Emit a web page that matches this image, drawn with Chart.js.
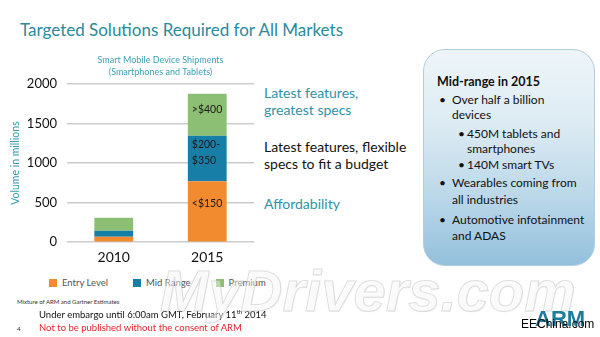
<!DOCTYPE html>
<html>
<head>
<meta charset="utf-8">
<title>Targeted Solutions Required for All Markets</title>
<script src="https://cdn.jsdelivr.net/npm/chart.js@4.4.1/dist/chart.umd.min.js"></script>
<style>
  html, body { margin: 0; padding: 0; background: #fff; }
  #slide { position: relative; width: 600px; height: 337px; overflow: hidden; font-family: Lato, "Open Sans", sans-serif; }
  .t { position: absolute; white-space: nowrap; }
  #title { left: 20px; top: 19px; font-size: 17px; line-height: 22px; color: #2b8a9c; }
  #chartBox { position: absolute; left: 0; top: 40px; width: 258px; height: 233px; }
  .side { font-size: 14px; line-height: 17px; left: 264px; }
  .teal { color: #2e93a9; }
  .dark { color: #111; }
  #legend { position: absolute; left: 49px; top: 277px; display: flex; font-size: 9.5px; line-height: 12px; color: #555; }
  #legend .item { display: flex; align-items: center; margin-right: 25px; }
  #legend .sw { width: 8px; height: 8px; margin-right: 5px; }
  #note { position: absolute; left: 423px; top: 49px; width: 170px; height: 215px; border-radius: 22px;
          border: 1px solid #b4cddc;
          background: linear-gradient(to bottom, #eef5f9 0%, #dcebf3 35%, #b9d6e8 70%, #93c0dc 100%); }
  .nb { font-size: 12px; line-height: 15px; color: #111; }
  .bul { font-size: 12px; line-height: 15px; color: #111; }
  .foot { font-family: Lato, sans-serif; }
  #wm { left: 160px; top: 262px; font: italic bold 58px "Liberation Sans", Arial, sans-serif; line-height: 58px;
        color: rgba(255,255,255,0.45); -webkit-text-stroke: 1px rgba(200,200,200,0.6);
        text-shadow: 1px 1px 1px rgba(0,0,0,0.04); }
  #arm { left: 535px; top: 308px; font: bold 22px "Liberation Sans", Arial, sans-serif; line-height: 22px; color: #1d7c9b; }
  #ee { left: 521px; top: 317px; font: 12px "Liberation Sans", Arial, sans-serif; line-height: 14px; color: #000; }
</style>
</head>
<body>
<div id="slide">
  <div id="title" class="t">Targeted Solutions Required for All Markets</div>

  <div id="chartBox"><canvas id="shipments" width="258" height="233"></canvas></div>
  <div id="legend"></div>

  <div class="t side teal" style="top:84px">Latest features,<br>greatest specs</div>
  <div class="t side dark" style="top:138px">Latest features, flexible<br>specs to fit a budget</div>
  <div class="t side teal" style="top:195px">Affordability</div>

  <div id="note"></div>
  <div class="t nb" style="left:437px; top:74px; font-weight:bold; font-size:12.5px">Mid-range in 2015</div>
  <div class="t bul" style="left:439px; top:92px">&bull;</div>
  <div class="t bul" style="left:452px; top:92px">Over half a billion</div>
  <div class="t bul" style="left:452px; top:107px">devices</div>
  <div class="t bul" style="left:458px; top:126px">&bull;</div>
  <div class="t bul" style="left:467px; top:126px">450M tablets and</div>
  <div class="t bul" style="left:467px; top:141px">smartphones</div>
  <div class="t bul" style="left:458px; top:157px">&bull;</div>
  <div class="t bul" style="left:467px; top:157px">140M smart TVs</div>
  <div class="t bul" style="left:439px; top:175px">&bull;</div>
  <div class="t bul" style="left:452px; top:175px">Wearables coming from</div>
  <div class="t bul" style="left:452px; top:192px">all industries</div>
  <div class="t bul" style="left:439px; top:212px">&bull;</div>
  <div class="t bul" style="left:452px; top:212px">Automotive infotainment</div>
  <div class="t bul" style="left:452px; top:228px">and ADAS</div>

  <div class="t foot" style="left:17px; top:298px; font-size:6px; line-height:8px; color:#333">Mixture of ARM and Gartner Estimates</div>
  <div class="t foot" style="left:39px; top:309px; font-size:9.5px; line-height:12px; color:#111">Under embargo until 6:00am GMT, February 11<sup style="font-size:6px; line-height:0">th</sup> 2014</div>
  <div class="t foot" style="left:17px; top:324px; font-size:6.5px; line-height:9px; color:#333">4</div>
  <div class="t foot" style="left:39px; top:322px; font-size:9.5px; line-height:12px; color:#e3262b">Not to be published without the consent of ARM</div>

  <div id="wm" class="t">MyDrivers.com</div>
  <div id="arm" class="t">ARM</div>
  <div id="ee" class="t">EEChina.com</div>
</div>

<script>
// shipments in millions, smartphones and tablets
const years = ['2010', '2015'];
const entryLevel = [70, 770];
const midRange = [75, 575];
const premium = [165, 530];

const seriesNames = ['Entry Level', 'Mid Range', 'Premium'];
const seriesColors = ['#f28a30', '#177fa7', '#8cbf74'];

// price bands printed inside the 2015 column, bottom to top
const priceBands = [['<$150'], ['$200-', '$350'], ['>$400']];
const bandYear = '2015';

const yMax = 2000;
const yStep = 500;

Chart.defaults.font.family = 'Lato, "Open Sans", sans-serif';

const priceBandPlugin = {
  id: 'priceBands',
  afterDatasetsDraw(chart) {
    const { ctx } = chart;
    const idx = chart.data.labels.indexOf(bandYear);
    ctx.save();
    ctx.font = '10.5px Lato, sans-serif';
    ctx.fillStyle = '#1a1a1a';
    ctx.textBaseline = 'middle';
    ctx.textAlign = 'left';
    chart.data.datasets.forEach((ds, i) => {
      const bar = chart.getDatasetMeta(i).data[idx];
      const lines = priceBands[i];
      const lh = 15.5;
      const mid = bar.y + (bar.base - bar.y) * 0.37;
      const left = bar.x - bar.width / 2 + 4;
      lines.forEach((txt, j) => {
        ctx.fillText(txt, left, mid + (j - (lines.length - 1) / 2) * lh);
      });
    });
    ctx.restore();
  }
};

const datasets = [entryLevel, midRange, premium].map((values, i) => ({
  label: seriesNames[i],
  data: values,
  backgroundColor: seriesColors[i],
  borderWidth: 0,
  barPercentage: 0.415,
  categoryPercentage: 1
}));

const chart = new Chart(document.getElementById('shipments'), {
  type: 'bar',
  data: { labels: years, datasets },
  options: {
    responsive: false,
    animation: false,
    devicePixelRatio: 1,
    layout: { padding: { left: 9, right: 4, top: 0, bottom: 0 } },
    plugins: {
      legend: { display: false },
      tooltip: { enabled: false },
      title: {
        display: true,
        fullSize: false,
        text: ['Smart Mobile Device Shipments', '(Smartphones and Tablets)'],
        color: '#3a9fb4',
        font: { size: 9, weight: 'normal', lineHeight: 1.33 },
        padding: { top: 14.5, bottom: 5.5 }
      }
    },
    scales: {
      x: {
        stacked: true,
        grid: { display: false, drawTicks: false, tickLength: 0 },
        border: { display: false },
        ticks: { color: '#111', font: { size: 14 }, padding: 7 }
      },
      y: {
        stacked: true,
        min: 0,
        max: yMax,
        afterFit(scale) { scale.width = 58; },
        grid: { color: '#cccccc', lineWidth: 1.5, drawTicks: false, tickLength: 0 },
        border: { display: false },
        ticks: { stepSize: yStep, color: '#111', font: { size: 13 }, padding: 10, callback: v => String(v) },
        title: {
          display: true,
          text: 'Volume in millions',
          color: '#2f9bb0',
          font: { size: 10.5 },
          padding: { top: 0, bottom: 6 }
        }
      }
    }
  },
  plugins: [priceBandPlugin]
});

// legend built from the chart's own datasets
const legend = document.getElementById('legend');
chart.data.datasets.forEach(ds => {
  const item = document.createElement('div');
  item.className = 'item';
  const sw = document.createElement('span');
  sw.className = 'sw';
  sw.style.background = ds.backgroundColor;
  item.appendChild(sw);
  item.appendChild(document.createTextNode(ds.label));
  legend.appendChild(item);
});
</script>
</body>
</html>
